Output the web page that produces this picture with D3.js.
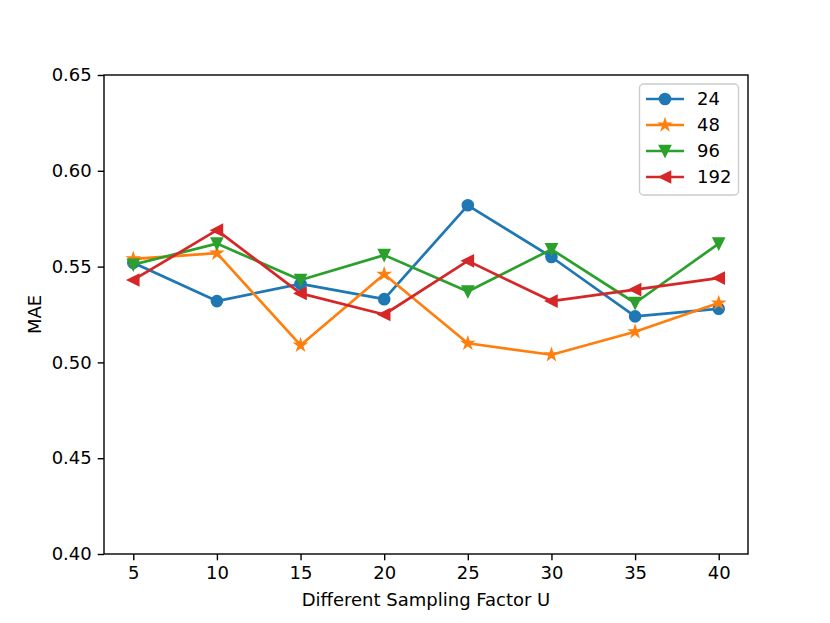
<!DOCTYPE html>
<html>
<head>
<meta charset="utf-8">
<script src="https://cdn.jsdelivr.net/npm/d3@7"></script>
<style>
  body { margin: 0; background: #fff; }
  svg text { font-family: "DejaVu Sans", sans-serif; fill: #000; }
</style>
</head>
<body>
<div id="chart"></div>
<script>
// sampling factor U on the x axis
var factors = [5, 10, 15, 20, 25, 30, 35, 40];
var seriesNames = ["24", "48", "96", "192"];
var mae24  = [0.552, 0.532, 0.541, 0.533, 0.582, 0.555, 0.524, 0.528];
var mae48  = [0.554, 0.557, 0.509, 0.546, 0.510, 0.504, 0.516, 0.531];
var mae96  = [0.551, 0.562, 0.543, 0.556, 0.537, 0.559, 0.531, 0.562];
var mae192 = [0.543, 0.569, 0.536, 0.525, 0.553, 0.532, 0.538, 0.544];
var yTicks = [0.40, 0.45, 0.50, 0.55, 0.60, 0.65];

;(function(){

var seriesValues = [mae24, mae48, mae96, mae192];
var colors = ["#1f77b4", "#ff7f0e", "#2ca02c", "#d62728"];
var markers = ["circle", "star", "tridown", "trileft"];

var w = 830, h = 623;
var pLeft = 104, pRight = 748, pTop = 75, pBottom = 554;
var ms = 5.4; // half marker size in px
var fs = "18px";

var svg = d3.select("#chart").append("svg")
  .attr("width", w)
  .attr("height", h);

var xPad = (d3.max(factors) - d3.min(factors)) * 0.05;
var x = d3.scaleLinear()
  .domain([d3.min(factors) - xPad, d3.max(factors) + xPad])
  .range([pLeft, pRight]);

var y = d3.scaleLinear()
  .domain([0.40, 0.65])
  .range([pBottom, pTop]);

var xAxis = d3.axisBottom(x).tickValues(factors).tickSize(6.3).tickPadding(6).tickFormat(d3.format("d"));
var yAxis = d3.axisLeft(y).tickValues(yTicks).tickSize(6.3).tickPadding(6).tickFormat(d3.format(".2f"));

var gX = svg.append("g")
  .attr("transform", "translate(0," + pBottom + ")")
  .call(xAxis);
var gY = svg.append("g")
  .attr("transform", "translate(" + pLeft + ",0)")
  .call(yAxis);

[gX, gY].forEach(function(g){
  g.select(".domain").remove();
  g.selectAll(".tick line").attr("stroke", "#000").attr("stroke-width", 1.4);
  g.selectAll(".tick text").attr("font-size", fs).attr("font-family", "DejaVu Sans");
});

// markers as path strings around 0,0
function markerPath(type) {
  if (type === "circle") {
    return d3.symbol().type(d3.symbolCircle).size(Math.PI * ms * ms)();
  }
  if (type === "tridown") {
    return "M0," + ms + "L" + (-ms) + "," + (-ms) + "L" + ms + "," + (-ms) + "Z";
  }
  if (type === "trileft") {
    return "M" + (-ms) + ",0L" + ms + "," + (-ms) + "L" + ms + "," + ms + "Z";
  }
  // five point star
  var pts = [];
  var inner = ms * 0.381966;
  for (var k = 0; k < 10; k++) {
    var r = (k % 2 === 0) ? ms : inner;
    var a = -Math.PI / 2 + k * Math.PI / 5;
    pts.push([r * Math.cos(a), r * Math.sin(a)]);
  }
  return "M" + pts.map(function(p){ return p[0].toFixed(2) + "," + p[1].toFixed(2); }).join("L") + "Z";
}

var line = d3.line()
  .x(function(d){ return x(d[0]); })
  .y(function(d){ return y(d[1]); });

seriesValues.forEach(function(vals, i){
  var pts = factors.map(function(f, j){ return [f, vals[j]]; });
  var g = svg.append("g");
  g.append("path")
    .datum(pts)
    .attr("d", line)
    .attr("fill", "none")
    .attr("stroke", colors[i])
    .attr("stroke-width", 2.7)
    .attr("stroke-linejoin", "round")
    .attr("stroke-linecap", "square");
  g.selectAll(".mk")
    .data(pts)
    .enter().append("path")
    .attr("class", "mk")
    .attr("d", markerPath(markers[i]))
    .attr("transform", function(d){ return "translate(" + x(d[0]) + "," + y(d[1]) + ")"; })
    .attr("fill", colors[i])
    .attr("stroke", colors[i])
    .attr("stroke-width", 1.8)
    .attr("stroke-linejoin", "miter");
});

// axes frame
svg.append("rect")
  .attr("x", pLeft).attr("y", pTop)
  .attr("width", pRight - pLeft).attr("height", pBottom - pTop)
  .attr("fill", "none")
  .attr("stroke", "#000")
  .attr("stroke-width", 1.4);

// axis labels
svg.append("text")
  .attr("x", (pLeft + pRight) / 2)
  .attr("y", 606)
  .attr("text-anchor", "middle")
  .attr("font-size", fs)
  .text("Different Sampling Factor U");

svg.append("text")
  .attr("transform", "translate(41," + ((pTop + pBottom) / 2) + ") rotate(-90)")
  .attr("text-anchor", "middle")
  .attr("font-size", fs)
  .text("MAE");

// legend
var legend = svg.append("g");
legend.append("rect")
  .attr("x", 639.5).attr("y", 84)
  .attr("width", 99).attr("height", 111)
  .attr("rx", 4)
  .attr("fill", "#fff")
  .attr("fill-opacity", 0.8)
  .attr("stroke", "#cccccc")
  .attr("stroke-width", 1.4);

seriesNames.forEach(function(name, i){
  var ly = 99 + i * 26;
  legend.append("line")
    .attr("x1", 646).attr("x2", 684)
    .attr("y1", ly).attr("y2", ly)
    .attr("stroke", colors[i])
    .attr("stroke-width", 2.7);
  legend.append("path")
    .attr("d", markerPath(markers[i]))
    .attr("transform", "translate(665," + ly + ")")
    .attr("fill", colors[i])
    .attr("stroke", colors[i])
    .attr("stroke-width", 1.8);
  legend.append("text")
    .attr("x", 697)
    .attr("y", ly)
    .attr("dy", "0.36em")
    .attr("font-size", fs)
    .text(name);
});

})();
</script>
</body>
</html>
